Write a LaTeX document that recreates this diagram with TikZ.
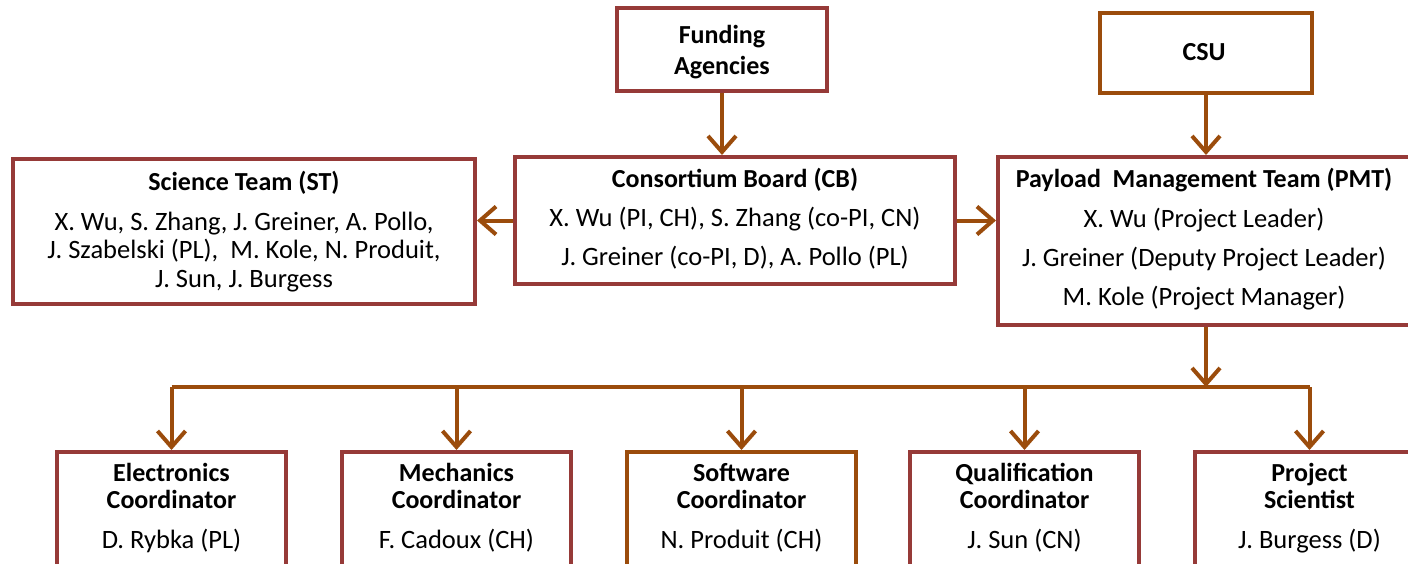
\documentclass[tikz,border=0pt]{standalone}
\usepackage{fontspec}
\setmainfont{Carlito}
\usetikzlibrary{arrows.meta}
\definecolor{boxred}{RGB}{150,58,56}
\definecolor{arrorange}{RGB}{155,76,12}
\tikzset{
  box/.style={draw=boxred, line width=4pt, rectangle, inner sep=0pt, fill=white},
  obox/.style={box, draw=arrorange},
  txt/.style={anchor=base, inner sep=0pt, font=\fontsize{26.5}{30}\selectfont, text=black},
  ttl/.style={txt, font=\fontsize{26}{30}\selectfont\bfseries},
  arr/.style={draw=arrorange, line width=4pt, -{Straight Barb[length=16pt,width=28pt]}},
  bus/.style={draw=arrorange, line width=4pt}
}
\begin{document}
\begin{tikzpicture}[x=1pt,y=-1pt]
\useasboundingbox (0,0) rectangle (1408,563);
\clip (0,0) rectangle (1408,563);
% boxes
\node[box, minimum width=210pt, minimum height=83pt] (fund) at (722,49.5) {};
\node[obox, minimum width=212pt, minimum height=80pt] (csu) at (1206,53) {};
\node[box, minimum width=440pt, minimum height=127pt] (cb) at (735,220.5) {};
\node[box, minimum width=462pt, minimum height=145pt] (st) at (244,231.5) {};
\node[box, minimum width=416pt, minimum height=168pt] (pmt) at (1206,241) {};
\node[box, minimum width=229pt, minimum height=148pt] (el) at (171.5,526) {};
\node[box, minimum width=229pt, minimum height=148pt] (me) at (456.5,526) {};
\node[obox, minimum width=229pt, minimum height=148pt] (sw) at (741.5,526) {};
\node[box, minimum width=229pt, minimum height=148pt] (qu) at (1024.5,526) {};
\node[box, minimum width=229pt, minimum height=148pt] (ps) at (1309.5,526) {};
% texts
\node[ttl] (fund1) at (722,43) {Funding};
\node[ttl] (fund2) at (722,74) {Agencies};
\node[ttl] (csu1) at (1204,60) {CSU};
\node[ttl] (cb1) at (735,187) {Consortium Board (CB)};
\node[txt] (cb2) at (735,226) {X. Wu (PI, CH), S. Zhang (co-PI, CN)};
\node[txt] (cb3) at (735,265) {J. Greiner (co-PI, D), A. Pollo (PL)};
\node[ttl] (st1) at (244,190) {Science Team (ST)};
\node[txt] (st2) at (244,230) {X. Wu, S. Zhang, J. Greiner, A. Pollo,};
\node[txt] (st3) at (244,258) {J. Szabelski (PL),\ \ M. Kole, N. Produit,};
\node[txt] (st4) at (244,287) {J. Sun, J. Burgess};
\node[ttl] (pmt1) at (1204,187) {Payload\ \ Management Team (PMT)};
\node[txt] (pmt2) at (1204,227) {X. Wu (Project Leader)};
\node[txt] (pmt3) at (1204,266) {J. Greiner (Deputy Project Leader)};
\node[txt] (pmt4) at (1204,305) {M. Kole (Project Manager)};
\node[ttl] (el1) at (171.5,481) {Electronics};
\node[ttl] (el2) at (171.5,508) {Coordinator};
\node[txt] (el3) at (171.5,548) {D. Rybka (PL)};
\node[ttl] (me1) at (456.5,481) {Mechanics};
\node[ttl] (me2) at (456.5,508) {Coordinator};
\node[txt] (me3) at (456.5,548) {F. Cadoux (CH)};
\node[ttl] (sw1) at (741.5,481) {Software};
\node[ttl] (sw2) at (741.5,508) {Coordinator};
\node[txt] (sw3) at (741.5,548) {N. Produit (CH)};
\node[ttl] (qu1) at (1024.5,481) {Qualification};
\node[ttl] (qu2) at (1024.5,508) {Coordinator};
\node[txt] (qu3) at (1024.5,548) {J. Sun (CN)};
\node[ttl] (ps1) at (1309.5,481) {Project};
\node[ttl] (ps2) at (1309.5,508) {Scientist};
\node[txt] (ps3) at (1309.5,548) {J. Burgess (D)};
% connectors
\coordinate (bus) at (0,387);
\draw[arr] (fund.south) -- (fund.south |- cb.north);
\draw[arr] (csu.south) -- (csu.south |- pmt.north);
\draw[arr] (cb.west) -- (cb.west -| st.east);
\draw[arr] (cb.east) -- (cb.east -| pmt.west);
\draw[bus] (el.north |- bus) -- (ps.north |- bus);
\draw[arr] (pmt.south) -- (pmt.south |- bus);
\foreach \b in {el,me,sw,qu,ps}{
  \draw[arr] (\b.north |- bus) -- (\b.north);
}
\end{tikzpicture}
\end{document}
